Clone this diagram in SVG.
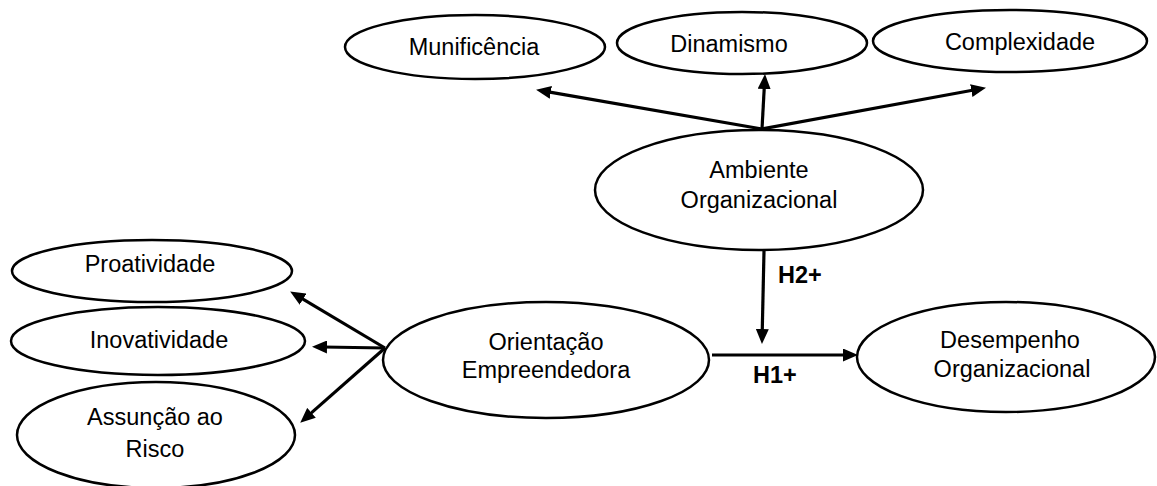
<svg xmlns="http://www.w3.org/2000/svg" width="1157" height="486" viewBox="0 0 1157 486">
<style>
.node ellipse{fill:#fff;stroke:#000;stroke-width:2.5}
.node text,.lbl{font-family:"Liberation Sans",Arial,sans-serif;font-size:23.5px;fill:#000;text-anchor:middle}
.lbl{font-weight:bold;text-anchor:start}
.conn line{stroke:#000;stroke-width:3.2;fill:none}
</style>
<defs>
<marker id="ah" markerUnits="userSpaceOnUse" markerWidth="15" markerHeight="13" refX="4" refY="6.5" orient="auto" viewBox="0 0 15 13">
<path d="M0,0 L15,6.5 L0,13 z" fill="#000"/>
</marker>
</defs>
<rect width="1157" height="486" fill="#fff"/>
<g id="munificencia" class="node"><ellipse cx="475" cy="47" rx="130" ry="32"/><text x="474" y="55">Munificência</text></g>
<g id="dinamismo" class="node"><ellipse cx="742" cy="43" rx="125" ry="31"/><text x="729" y="52">Dinamismo</text></g>
<g id="complexidade" class="node"><ellipse cx="1010" cy="41" rx="137" ry="31"/><text x="1020" y="50">Complexidade</text></g>
<g id="ambiente" class="node"><ellipse cx="759" cy="190" rx="164" ry="60"/><text x="759" y="178">Ambiente</text><text x="759" y="208">Organizacional</text></g>
<g id="proatividade" class="node"><ellipse cx="152" cy="271" rx="140" ry="31"/><text x="150" y="272">Proatividade</text></g>
<g id="inovatividade" class="node"><ellipse cx="158" cy="341" rx="147" ry="34"/><text x="159" y="348">Inovatividade</text></g>
<g id="assuncao" class="node"><ellipse cx="156" cy="435" rx="139" ry="53"/><text x="155" y="425">Assunção ao</text><text x="155" y="457">Risco</text></g>
<g id="orientacao" class="node"><ellipse cx="546" cy="360" rx="163" ry="58"/><text x="546" y="350">Orientação</text><text x="546" y="378">Empreendedora</text></g>
<g id="desempenho" class="node"><ellipse cx="1006" cy="357" rx="149" ry="55"/><text x="1010" y="348">Desempenho</text><text x="1012" y="377">Organizacional</text></g>
<g id="connectors" class="conn">
<line x1="762" y1="129" x2="546.9" y2="91.7" marker-end="url(#ah)"/>
<line x1="762" y1="129" x2="764.4" y2="85" marker-end="url(#ah)"/>
<line x1="762" y1="129" x2="975.2" y2="89.8" marker-end="url(#ah)"/>
<line x1="385" y1="348" x2="299.6" y2="297.1" marker-end="url(#ah)"/>
<line x1="385" y1="348" x2="323" y2="347" marker-end="url(#ah)"/>
<line x1="385" y1="348" x2="308.5" y2="415.4" marker-end="url(#ah)"/>
<line x1="764" y1="251" x2="762.2" y2="333" marker-end="url(#ah)"/>
<line x1="712" y1="355" x2="847" y2="355" marker-end="url(#ah)"/>
</g>
<text class="lbl" x="778" y="283">H2+</text>
<text class="lbl" x="753" y="383">H1+</text>
</svg>
